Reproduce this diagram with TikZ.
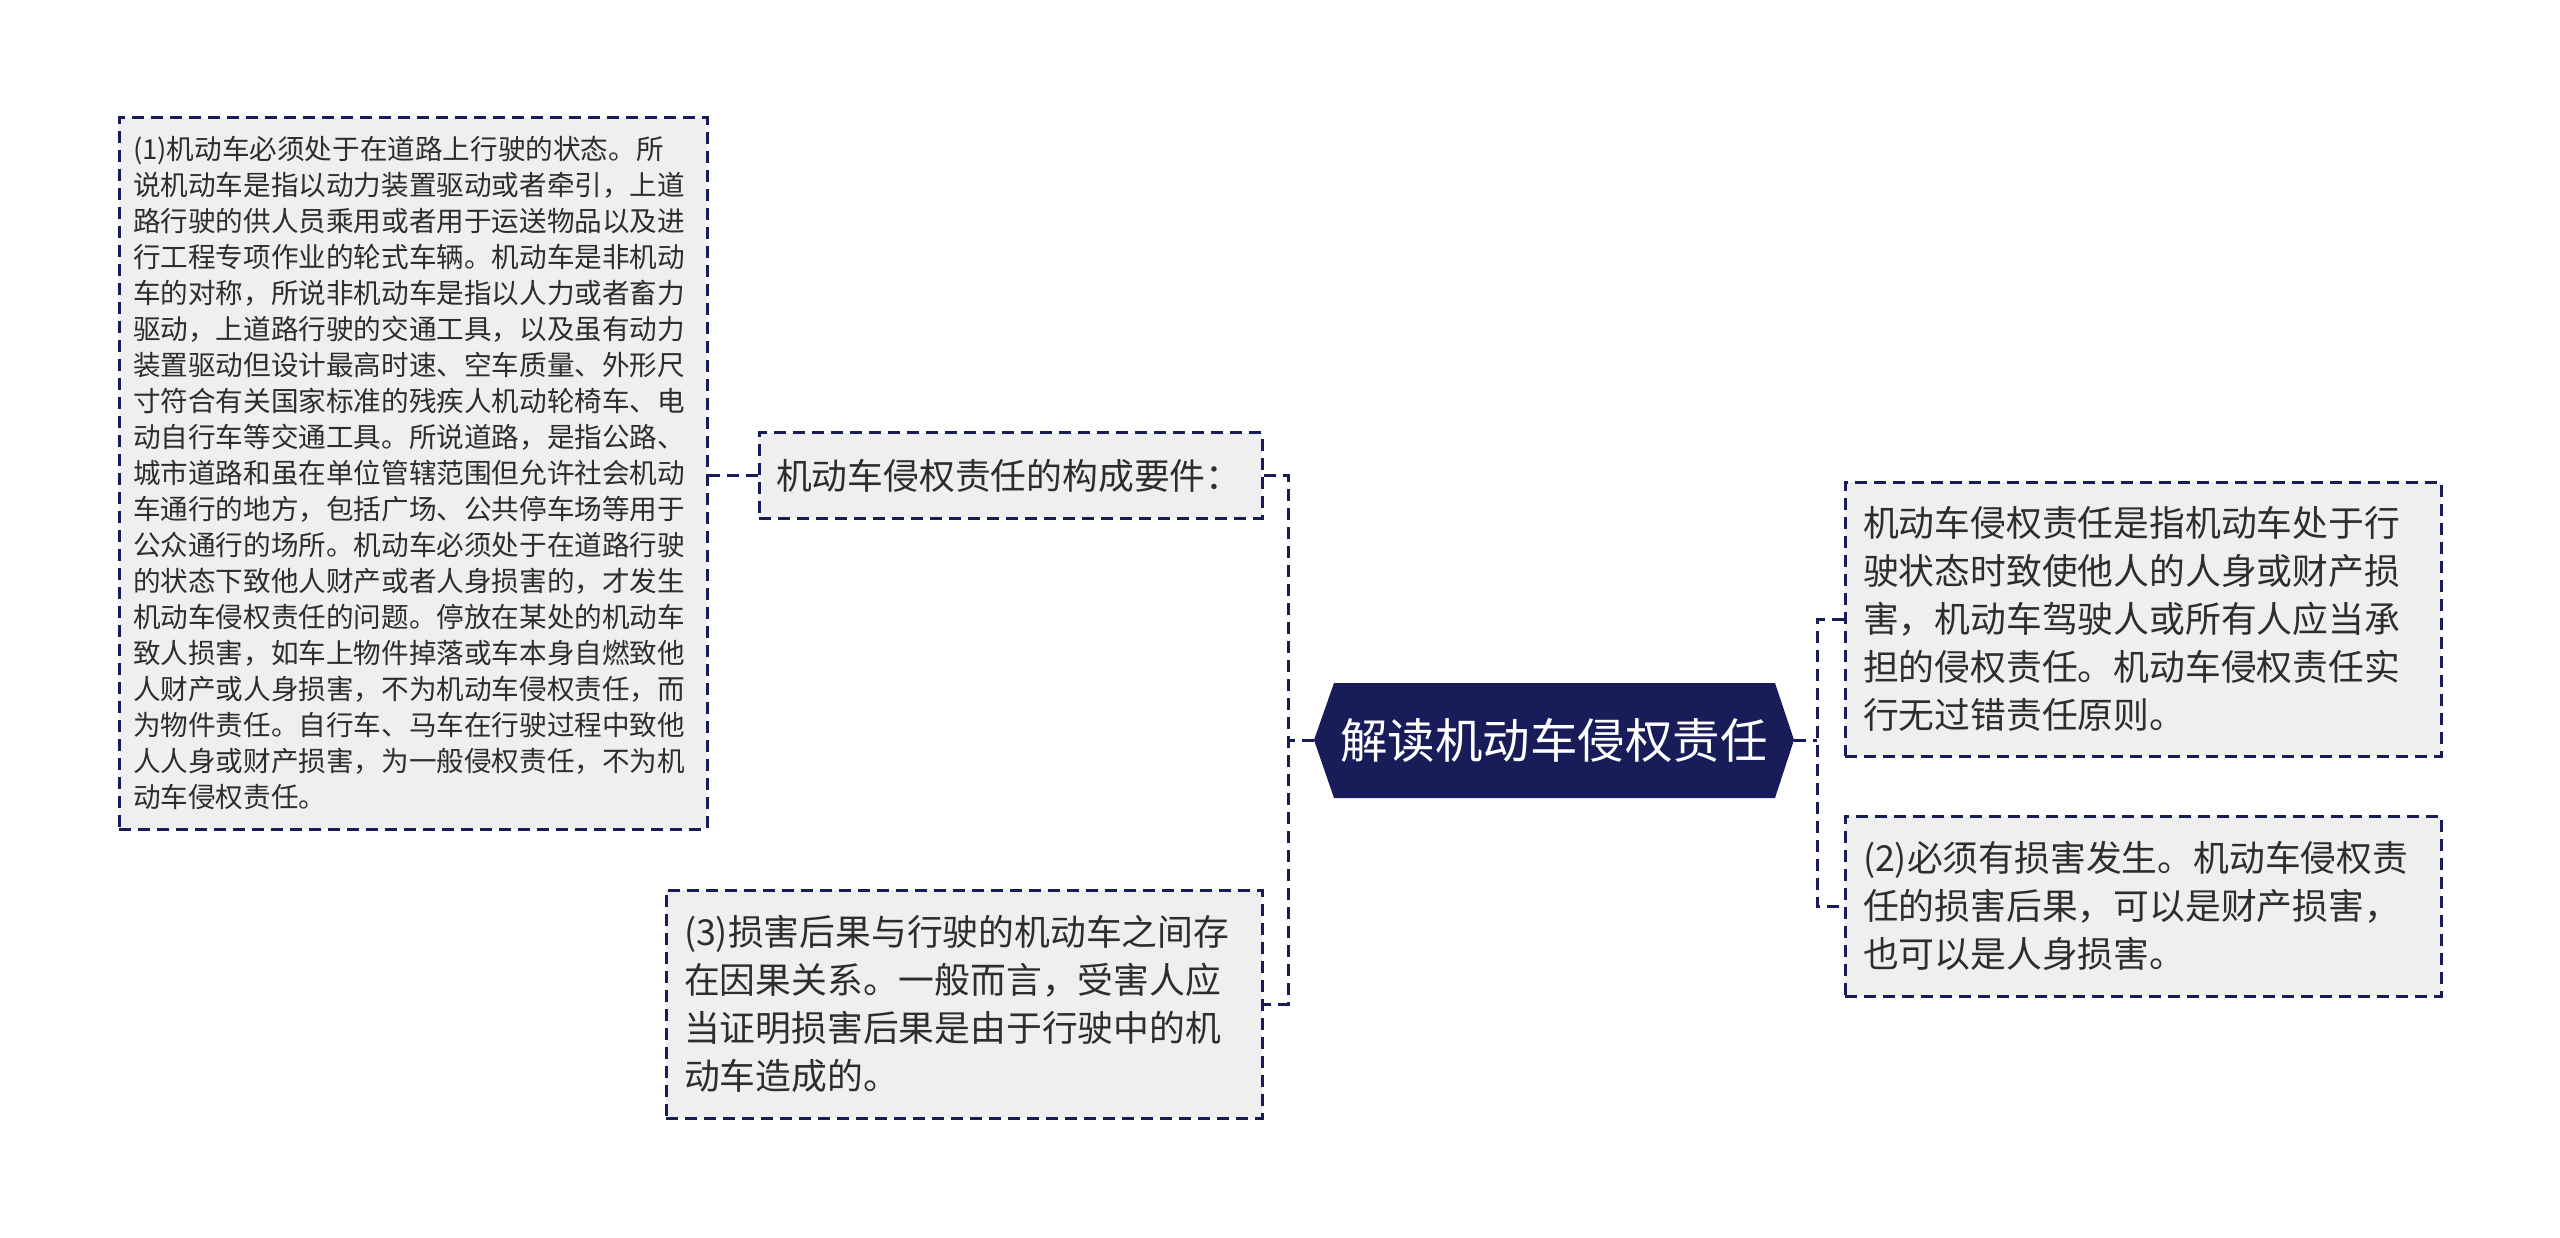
\documentclass[tikz,border=0pt]{standalone}
\usepackage{fontspec}
\setmainfont{Noto Sans CJK SC}
\definecolor{navy}{RGB}{24,29,90}
\definecolor{boxfill}{RGB}{239,239,239}
\definecolor{txt}{RGB}{45,45,45}
\begin{document}
\begin{tikzpicture}[x=1pt,y=-1pt,
  conn/.style={draw=navy, line width=3pt, dash pattern=on 12pt off 7pt},
  box/.style={conn, fill=boxfill, text=txt, align=left, anchor=center, inner ysep=0pt},
  smalltxt/.style={font=\fontsize{27.6}{36}\selectfont},
  bigtxt/.style={font=\fontsize{35.8}{48}\selectfont}]
\useasboundingbox (0,0) rectangle (2560,1238);
\fill[white] (0,0) rectangle (2560,1238);

% central hexagon
\coordinate (cl) at (1314,740);
\coordinate (cr) at (1794,740);
\fill[navy] (cl) -- (1334,683) -- (1775,683) -- (cr) -- (1775,798) -- (1334,798) -- cycle;
\node[text=white, font=\fontsize{47.5}{56}\selectfont, inner sep=0pt] (c) at (1554,740) {解读机动车侵权责任};

% left branch
\node[box, bigtxt, minimum width=503, minimum height=85, inner xsep=17, text width=469] (A) at (1010.5,475.5) {机动车侵权责任的构成要件：};

\node[box, smalltxt, minimum width=588, minimum height=711, inner xsep=14, text width=560] (far) at (413,473.5) {(1)机动车必须处于在道路上行驶的状态。所\\
说机动车是指以动力装置驱动或者牵引，上道\\
路行驶的供人员乘用或者用于运送物品以及进\\
行工程专项作业的轮式车辆。机动车是非机动\\
车的对称，所说非机动车是指以人力或者畜力\\
驱动，上道路行驶的交通工具，以及虽有动力\\
装置驱动但设计最高时速、空车质量、外形尺\\
寸符合有关国家标准的残疾人机动轮椅车、电\\
动自行车等交通工具。所说道路，是指公路、\\
城市道路和虽在单位管辖范围但允许社会机动\\
车通行的地方，包括广场、公共停车场等用于\\
公众通行的场所。机动车必须处于在道路行驶\\
的状态下致他人财产或者人身损害的，才发生\\
机动车侵权责任的问题。停放在某处的机动车\\
致人损害，如车上物件掉落或车本身自燃致他\\
人财产或人身损害，不为机动车侵权责任，而\\
为物件责任。自行车、马车在行驶过程中致他\\
人人身或财产损害，为一般侵权责任，不为机\\
动车侵权责任。};

\node[box, bigtxt, minimum width=596, minimum height=228, inner xsep=18, text width=560] (B) at (964,1004) {(3)损害后果与行驶的机动车之间存\\
在因果关系。一般而言，受害人应\\
当证明损害后果是由于行驶中的机\\
动车造成的。};

% right branch
\node[box, bigtxt, minimum width=596, minimum height=274, inner xsep=18, text width=560] (R1) at (2143,619) {机动车侵权责任是指机动车处于行\\
驶状态时致使他人的人身或财产损\\
害，机动车驾驶人或所有人应当承\\
担的侵权责任。机动车侵权责任实\\
行无过错责任原则。};

\node[box, bigtxt, minimum width=596, minimum height=180, inner xsep=18, text width=560] (R2) at (2143,906) {(2)必须有损害发生。机动车侵权责\\
任的损害后果，可以是财产损害，\\
也可以是人身损害。};

% connectors
\draw[conn] (cl) -- ++(-26,0) coordinate (lt);
\draw[conn] (A.east) -| (lt) |- (B.east);
\draw[conn] (cr) -- ++(23,0) coordinate (rt);
\draw[conn] (R1.west) -| (rt) |- (R2.west);
\draw[conn] (A.west) -- (A.west -| far.east);
\end{tikzpicture}
\end{document}
